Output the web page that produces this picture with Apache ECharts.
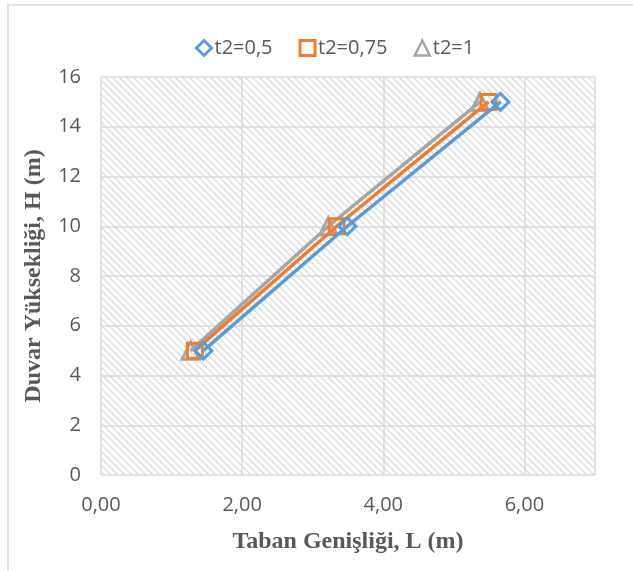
<!DOCTYPE html>
<html>
<head>
<meta charset="utf-8">
<script src="https://cdn.jsdelivr.net/npm/echarts@6/dist/echarts.min.js"></script>
<style>html,body{margin:0;padding:0;background:#fff}#c{width:633px;height:571px}</style>
</head>
<body>
<div id="c"></div>
<script>
const seriesNames = ['t2=0,5', 't2=0,75', 't2=1'];
const heights = [5, 10, 15];
const widthsT05 = [1.45, 3.49, 5.66];
const widthsT075 = [1.33, 3.34, 5.49];
const widthsT1 = [1.27, 3.22, 5.37];
const colors = ['#5b9bd5', '#ed7d31', '#a5a5a5'];
const symbols = ['diamond', 'rect', 'triangle'];

const pc = document.createElement('canvas');
pc.width = 7; pc.height = 7;
const px = pc.getContext('2d');
px.fillStyle = '#ffffff'; px.fillRect(0, 0, 7, 7);
px.strokeStyle = '#dadada'; px.lineWidth = 1.3;
px.beginPath();
px.moveTo(-1, -1); px.lineTo(8, 8);
px.moveTo(-8, -1); px.lineTo(1, 8);
px.moveTo(6, -1); px.lineTo(15, 8);
px.stroke();

const chart = echarts.init(document.getElementById('c'), null, {renderer: 'canvas'});
const allX = [widthsT05, widthsT075, widthsT1];
const fmt = v => v.toFixed(2).replace('.', ',');

chart.setOption({
  animation: false,
  backgroundColor: '#fff',
  graphic: [{
    type: 'rect', shape: {x: 8, y: 5, width: 640, height: 600},
    style: {fill: 'none', stroke: '#d9d9d9', lineWidth: 1.5}, z: -10
  }],
  legend: {
    top: 33, left: 190, itemWidth: 15, itemHeight: 15, itemGap: 26,
    lineStyle: {opacity: 0, width: 0},
    textStyle: {fontFamily: 'Open Sans', fontSize: 20, color: '#595959', padding: [0, 0, 0, -2]},
    data: seriesNames.map((n, i) => ({name: n, icon: symbols[i],
      itemStyle: {color: 'rgba(255,255,255,0)', borderColor: colors[i], borderWidth: i === 2 ? 2.5 : 3}}))
  },
  grid: {
    left: 101, right: 38, top: 77, bottom: 96, show: true,
    backgroundColor: {image: pc, repeat: 'repeat'}, borderWidth: 0
  },
  xAxis: {
    type: 'value', min: 0, max: 7, interval: 2,
    name: 'Taban Genişliği, L (m)', nameLocation: 'middle', nameGap: 55,
    nameTextStyle: {fontFamily: 'Liberation Serif', fontWeight: 'bold', fontSize: 24, color: '#595959'},
    axisLine: {show: false}, axisTick: {show: false},
    axisLabel: {formatter: fmt, showMaxLabel: false, margin: 20, fontFamily: 'Open Sans', fontSize: 20, color: '#595959'},
    splitLine: {show: true, lineStyle: {color: '#d9d9d9', width: 1.5}}
  },
  yAxis: {
    type: 'value', min: 0, max: 16, interval: 2,
    name: 'Duvar Yüksekliği, H (m)', nameLocation: 'middle', nameGap: 55,
    nameTextStyle: {fontFamily: 'Liberation Serif', fontWeight: 'bold', fontSize: 24, color: '#595959'},
    axisLine: {show: false}, axisTick: {show: false},
    axisLabel: {margin: 20, fontFamily: 'Open Sans', fontSize: 20, color: '#595959'},
    splitLine: {show: true, lineStyle: {color: '#d9d9d9', width: 1.5}}
  },
  series: seriesNames.map((n, i) => ({
    name: n, type: 'line',
    data: allX[i].map((x, k) => [x, heights[k]]),
    symbol: symbols[i], symbolSize: i === 0 ? 17 : (i === 1 ? 15 : 17),
    lineStyle: {color: colors[i], width: 3.5},
    itemStyle: {color: 'rgba(255,255,255,0)', borderColor: colors[i], borderWidth: 3},
    z: 3 - i
  }))
});
</script>
</body>
</html>
